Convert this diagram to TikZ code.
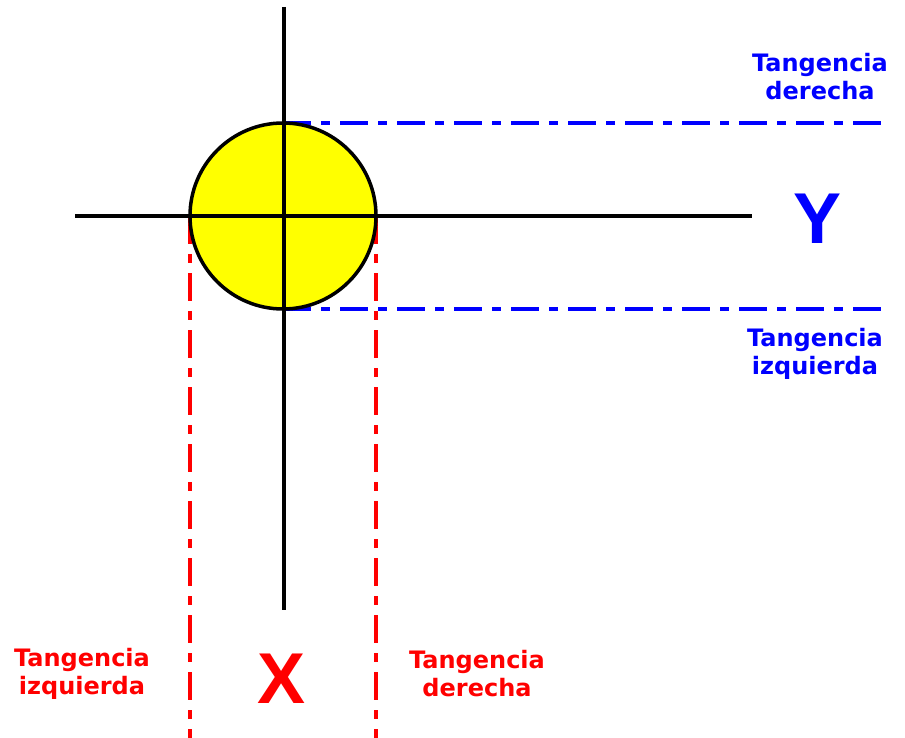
\documentclass[tikz,border=0pt]{standalone}
\usepackage{fontspec}
\setmainfont{DejaVu Sans}
\newfontfamily\bigletter{Liberation Sans}
\usepackage{tikz}
\usetikzlibrary{positioning,backgrounds}
\definecolor{sunyellow}{RGB}{255,255,0}
\definecolor{tanblue}{RGB}{0,0,255}
\definecolor{tanred}{RGB}{255,0,0}

\begin{document}
\begin{tikzpicture}[x=1pt, y=-1pt,
    axis/.style={draw=black, line width=4pt},
    tanline/.style={line width=4pt, dash pattern=on 28pt off 10pt on 9pt off 10pt},
    tanlabel/.style={font=\fontsize{24}{28}\selectfont\bfseries, align=center, inner sep=0pt},
    axislabel/.style={font=\bigletter\fontsize{72}{72}\selectfont\bfseries, inner sep=0pt}
]
    \useasboundingbox (0,0) rectangle (905,738);

    % ends of the axes and of the tangent lines
    \coordinate (vtop) at (284,7);
    \coordinate (vbot) at (284,610);
    \coordinate (hleft) at (75,216);
    \coordinate (hright) at (752,216);
    \coordinate (rightlimit) at (890,0);
    \coordinate (bottomlimit) at (0,740);

    % the circle
    \node[circle, draw=black, line width=3.5pt, fill=sunyellow, minimum size=186pt, inner sep=0pt, outer sep=0pt] (sun) at (283,216) {};

    % tangent lines, behind the circle
    \begin{scope}[on background layer]
        \draw[tanline, draw=tanblue] (sun.north) -- (sun.north -| rightlimit);
        \draw[tanline, draw=tanblue] (sun.south) -- (sun.south -| rightlimit);
        \draw[tanline, draw=tanred] (sun.west) -- (sun.west |- bottomlimit);
        \draw[tanline, draw=tanred] (sun.east) -- (sun.east |- bottomlimit);
    \end{scope}

    % axes
    \draw[axis] (vtop) -- (vbot);
    \draw[axis] (hleft) -- (hright);

    % labels
    \node[tanlabel, text=tanblue] (ytop) at (820,77) {Tangencia\\derecha};
    \node[axislabel, text=tanblue] (yname) at (818,219) {Y};
    \node[tanlabel, text=tanblue] (ybot) at (815,354) {Tangencia\\izquierda};
    \node[tanlabel, text=tanred] (xleft) at (82,674) {Tangencia\\izquierda};
    \node[axislabel, text=tanred] (xname) at (282,679) {X};
    \node[tanlabel, text=tanred] (xright) at (477,674) {Tangencia\\derecha};
\end{tikzpicture}
\end{document}
